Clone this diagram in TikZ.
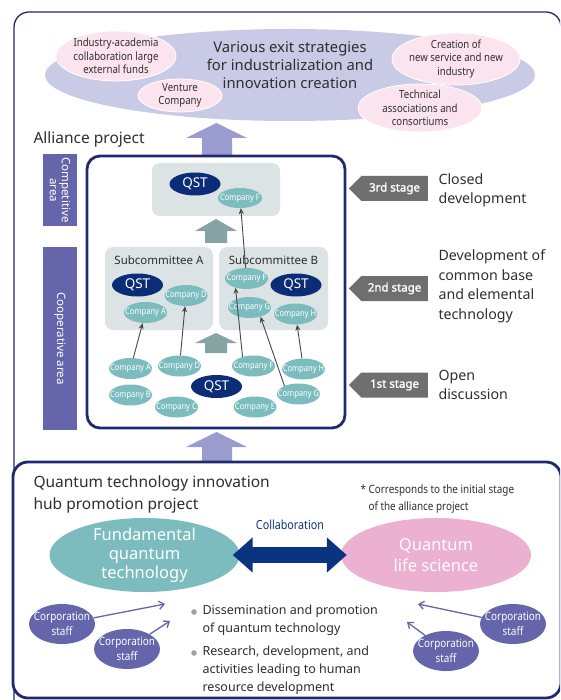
\documentclass[tikz,border=0pt]{standalone}
\usepackage{fontspec}
\setmainfont{Noto Sans}
\newfontfamily\narrowfont[FakeStretch=0.86]{Noto Sans}
\newfontfamily\stagefont[FakeBold=1.6]{Noto Sans}
\usetikzlibrary{arrows.meta, positioning, shapes.geometric, shapes.symbols}
\usepackage{xcolor}

\definecolor{framenavy}{HTML}{1F2A6E}
\definecolor{qstnavy}{HTML}{0B2D78}
\definecolor{compteal}{HTML}{7CBCBF}
\definecolor{exitlav}{HTML}{C9CAE6}
\definecolor{arrowlav}{HTML}{9A9BCE}
\definecolor{exitpink}{HTML}{FBE4EE}
\definecolor{lifepink}{HTML}{ECB1D0}
\definecolor{boxgray}{HTML}{DCE3E4}
\definecolor{arrowgray}{HTML}{87A3A4}
\definecolor{stagegray}{HTML}{6F6F6F}
\definecolor{staffpurple}{HTML}{6465AB}
\definecolor{textgray}{HTML}{2E2E2E}
\definecolor{linkgray}{HTML}{474747}
\definecolor{collabnavy}{HTML}{0B3480}
\definecolor{dotgray}{HTML}{A0A0A0}

\begin{document}
\begin{tikzpicture}[
  x=1pt, y=-1pt,
  every node/.style={text=textgray},
  frame/.style={draw=framenavy, line width=2.8pt, rounded corners=13pt},
  oval/.style={ellipse, inner xsep=-30pt, inner ysep=-15pt, align=center},
  exit/.style={oval, fill=exitpink, draw=white, line width=0.8pt, font=\narrowfont\fontsize{11.2}{13.5}\selectfont},
  company/.style={oval, fill=compteal, minimum width=43pt, minimum height=21pt, text=white, font=\narrowfont\fontsize{8.8}{9}\selectfont},
  qst/.style={oval, fill=qstnavy, minimum width=51pt, minimum height=23pt, text=white, font=\fontsize{13.5}{14}\selectfont},
  staff/.style={oval, fill=staffpurple, minimum width=66pt, minimum height=40pt, text=white, font=\narrowfont\fontsize{11.5}{15}\selectfont},
  hub/.style={oval, minimum width=190pt, minimum height=74pt, text=white, font=\fontsize{16.5}{19}\selectfont},
  subbox/.style={rectangle, rounded corners=8pt, fill=boxgray},
  subtitle/.style={font=\fontsize{11.5}{12}\selectfont},
  areabar/.style={rectangle, fill=staffpurple, text=white, rotate=-90, minimum height=34pt, inner sep=0pt, align=center, font=\fontsize{11.5}{12}\selectfont},
  stage/.style={signal, signal to=west, fill=stagegray, text=white, minimum width=79pt, minimum height=25pt, inner sep=0pt, font=\stagefont\fontsize{11.5}{12}\selectfont},
  stagetext/.style={align=left, font=\fontsize{14.2}{19.5}\selectfont},
  heading/.style={anchor=west, align=left, font=\fontsize{15.5}{22}\selectfont},
  bullettext/.style={anchor=west, align=left, font=\fontsize{12.5}{18}\selectfont},
  link/.style={draw=linkgray, line width=0.9pt, -{Stealth[length=6pt, width=5pt]}},
  staffline/.style={draw=staffpurple, line width=1.3pt, -{Straight Barb[length=5pt, width=8pt]}},
  collab/.style={draw=collabnavy, line width=16pt, {Triangle[length=20pt, width=34pt]}-{Triangle[length=20pt, width=34pt]}}
]
\useasboundingbox (0,0) rectangle (560,700);
\clip (0,0) rectangle (560,700);

% Frames and block arrows
\draw[framenavy, line width=1.3pt, rounded corners=15pt] (14,12) rectangle (561,720);
\foreach \tip/\neck/\tail in {123/138/157, 432/447/463}
  \fill[arrowlav] (216.5,\tip) -- (247,\neck) -- (232,\neck) -- (232,\tail) -- (202,\tail) -- (202,\neck) -- (186,\neck) -- cycle;
\draw[frame, fill=white, rounded corners=15pt] (13,462) rectangle (561,698);
\draw[frame] (87,156) rectangle (345,428);

% Exit strategies
\node[oval, fill=exitlav, minimum width=490pt, minimum height=92pt] (exits) at (290,75) {};
\node[exit, minimum width=120pt, minimum height=50pt] (funds) at (116,56) {Industry-academia\\collaboration large\\external funds};
\node[exit, minimum width=84pt, minimum height=33pt] (venture) at (180,95.5) {Venture\\Company};
\node[exit, minimum width=128pt, minimum height=52pt] (newind) at (456,59) {Creation of\\new service and new\\industry};
\node[exit, minimum width=124pt, minimum height=48pt] (assoc) at (420,108) {Technical\\associations and\\consortiums};
\node[align=center, font=\fontsize{14.8}{18}\selectfont] (goal) at (290,65) {Various exit strategies\\for industrialization and\\innovation creation};

% Alliance project
\node[heading] (alliance) at (30,139) {Alliance project};
\node[areabar, minimum width=72pt] (compet) at (60,190) {Competitive\\area};
\node[areabar, minimum width=183pt] (coop) at (60,338.5) {Cooperative area};

\foreach \tip/\neck/\tail in {219/231/243, 333/343/353}
  \fill[arrowgray] (216,\tip) -- (237,\neck) -- (227,\neck) -- (227,\tail) -- (205,\tail) -- (205,\neck) -- (195,\neck) -- cycle;

\node[subbox, minimum width=128pt, minimum height=53pt] (closedbox) at (216,189.5) {};
\node[qst] (qst3) at (195,184) {QST};
\node[company, minimum width=44pt, minimum height=20pt] (f3) at (240,198) {Company F};

\node[subbox, minimum width=108pt, minimum height=83pt] (subA) at (159,288.5) {};
\node[subbox, minimum width=109pt, minimum height=83pt] (subB) at (273.5,288.5) {};
\node[subtitle] (subAtitle) at (159,260) {Subcommittee A};
\node[subtitle] (subBtitle) at (273.5,260) {Subcommittee B};
\node[qst] (qstA) at (137.5,285) {QST};
\node[company] (dA) at (186,295.5) {Company D};
\node[company] (aA) at (145.5,312.5) {Company A};
\node[company] (fB) at (246.5,278.5) {Company F};
\node[qst] (qstB) at (296,285) {QST};
\node[company] (gB) at (249.5,307.5) {Company G};
\node[company] (hB) at (295.5,314) {Company H};

\node[company] (a1) at (130.5,368.5) {Company A};
\node[company] (d1) at (179.5,366) {Company D};
\node[company] (f1) at (253.5,366) {Company F};
\node[company] (h1) at (303.5,369) {Company H};
\node[company] (b1) at (130.5,395) {Company B};
\node[qst] (qst1) at (216.5,386.5) {QST};
\node[company] (g1) at (298.5,394) {Company G};
\node[company] (c1) at (176.5,407) {Company C};
\node[company] (e1) at (255,407) {Company E};

\draw[link] (a1) -- (aA);
\draw[link] (d1) -- (dA);
\draw[link] (f1.140) -- (fB.220);
\draw[link] (fB) -- (f3);
\draw[link] (g1.150) -- (gB.-40);
\draw[link] (h1) -- (hB);

% Stages
\node[stage, anchor=east] (third) at (428,188.5) {3rd stage};
\node[stagetext, right=7pt of third, yshift=-2pt] (closed) {Closed\\development};
\node[stage, anchor=east] (second) at (428,288.5) {2nd stage};
\node[stagetext, right=7pt of second, yshift=2pt] (common) {Development of\\common base\\and elemental\\technology};
\node[stage, anchor=east] (first) at (428,385) {1st stage};
\node[stagetext, right=7pt of first] (open) {Open\\discussion};

% Hub promotion project
\node[heading] (hub) at (30,494) {Quantum technology innovation\\hub promotion project};
\node[anchor=west, align=left, font=\narrowfont\fontsize{11.5}{17.5}\selectfont] (note) at (357,499) {* Corresponds to the initial stage\\\phantom{*} of the alliance project};
\node[hub, fill=compteal] (fund) at (144.5,555) {Fundamental\\quantum\\technology};
\node[hub, fill=lifepink, font=\fontsize{16.5}{21}\selectfont] (life) at (436,555) {Quantum\\life science};
\draw[collab, shorten <=-7pt, shorten >=-6pt] (fund.east) -- (life.west);
\node[font=\narrowfont\fontsize{12.5}{14}\selectfont, text=collabnavy] (collabel) at (290,525) {Collaboration};

\node[staff] (staff1) at (62,624) {Corporation\\staff};
\node[staff] (staff2) at (127,649) {Corporation\\staff};
\node[staff] (staff3) at (513,624) {Corporation\\staff};
\node[staff] (staff4) at (446,651) {Corporation\\staff};
\coordinate (reach1) at (165,604);
\coordinate (reach2) at (170,621);
\coordinate (reach3) at (418,604);
\coordinate (reach4) at (407,622);
\draw[staffline] (staff1) -- (reach1);
\draw[staffline] (staff2) -- (reach2);
\draw[staffline] (staff3) -- (reach3);
\draw[staffline] (staff4) -- (reach4);

\node[bullettext] (spread) at (199,620) {Dissemination and promotion\\of quantum technology};
\node[bullettext] (grow) at (199,670) {Research, development, and\\activities leading to human\\resource development};
\fill[dotgray] (194,612) circle (2.8pt);
\fill[dotgray] (194,653) circle (2.8pt);
\end{tikzpicture}
\end{document}
